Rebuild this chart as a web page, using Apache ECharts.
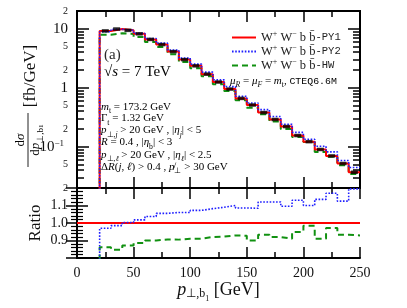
<!DOCTYPE html>
<html><head><meta charset="utf-8">
<script src="https://cdn.jsdelivr.net/npm/echarts@6/dist/echarts.min.js"></script>
<style>html,body{margin:0;padding:0;background:#fff}#c{width:407px;height:308px}</style>
</head><body><div id="c"></div>
<script>
// ---- data (10 GeV bins from 20 to 250 GeV) ----
const binEdges = [20,30,40,50,60,70,80,90,100,110,120,130,140,150,160,170,180,190,200,210,220,230,240,250];
const py1 = [9.2,9.9,9.4,8.2,6.6,5.4,4.1,3.0,2.35,1.7,1.25,0.95,0.66,0.51,0.38,0.29,0.22,0.155,0.122,0.09,0.07,0.052,0.037];
const py2 = [8.92,9.75,9.43,8.35,6.84,5.70,4.35,3.18,2.52,1.84,1.36,1.045,0.717,0.553,0.426,0.325,0.241,0.175,0.134,0.102,0.082,0.0585,0.0444];
const hw  = [7.92,8.39,8.19,7.27,5.94,4.89,3.71,2.73,2.14,1.56,1.15,0.883,0.612,0.459,0.355,0.267,0.200,0.147,0.120,0.0819,0.068,0.0485,0.0344];
const ratioPY2 = [0.97,0.985,1.003,1.018,1.037,1.055,1.06,1.06,1.072,1.082,1.09,1.10,1.086,1.084,1.12,1.12,1.096,1.13,1.10,1.135,1.17,1.125,1.195];
const ratioHW  = [0.861,0.847,0.871,0.886,0.90,0.906,0.905,0.91,0.91,0.92,0.922,0.929,0.927,0.90,0.933,0.92,0.91,0.949,0.984,0.91,0.972,0.933,0.929];
const ratioRef = 1.0;
const xRange = [0, 250];
const yTopRange = [0.02, 20];
const yRatioRange = [0.8, 1.2];
const yTopLabelValues = [0.02,0.05,0.1,0.2,0.5,1,2,5,10,20];
const yTopMajorTicks = [0.1,1,10];
const yTopMinorTicks = [0.02,0.03,0.04,0.05,0.06,0.07,0.08,0.09,0.2,0.3,0.4,0.5,0.6,0.7,0.8,0.9,2,3,4,5,6,7,8,9,20];

// ---- helpers ----
function stepData(vals, floor) {
  const d = [[binEdges[0], floor]];
  vals.forEach((v, i) => d.push([binEdges[i], v]));
  d.push([binEdges[binEdges.length - 1], vals[vals.length - 1]]);
  return d;
}
const centers = py1.map((v, i) => [(binEdges[i] + binEdges[i + 1]) / 2, v]);

const SERIF = 'Liberation Serif';
const MONO = 'Liberation Mono';
const black = '#000';
const RED = '#ff0000', BLUE = '#1f1fff', GREEN = '#119111';

function xAx(grid, pos, labels) {
  return {
    type: 'value', gridIndex: grid, position: pos, min: xRange[0], max: xRange[1], interval: 50,
    axisLine: { show: true, onZero: false, lineStyle: { color: black, width: 2 } },
    axisTick: { show: true, inside: true, length: 11, lineStyle: { color: black, width: 1.5 } },
    minorTick: { show: true, splitNumber: 2, length: 6, lineStyle: { color: black, width: 1.5 } },
    splitLine: { show: false },
    axisLabel: { show: labels, margin: 8, fontFamily: SERIF, fontSize: 14, color: '#111' }
  };
}
function yLog(pos, ticks, len, labels) {
  const a = {
    type: 'log', logBase: 10, gridIndex: 0, position: pos, min: yTopRange[0], max: yTopRange[1],
    axisLine: { show: true, lineStyle: { color: black, width: 2 } },
    axisTick: { show: true, inside: true, length: len, customValues: ticks, lineStyle: { color: black, width: 1.5 } },
    splitLine: { show: false },
    axisLabel: { show: false }
  };
  if (labels) {
    a.axisLabel = {
      show: true, customValues: yTopLabelValues, margin: 9, fontFamily: SERIF, color: '#111',
      formatter: function (v) {
        const lg = Math.log10(v), r = Math.round(lg);
        if (Math.abs(lg - r) < 1e-6) {
          if (r < 0) return '{big|10}{sup|\u2212' + (-r) + '}';
          return '{big|' + Math.pow(10, r) + '}';
        }
        const m = Math.round(v / Math.pow(10, Math.floor(lg)));
        return '{small|' + m + '}';
      },
      rich: {
        big: { fontFamily: SERIF, fontSize: 15, lineHeight: 16, color: '#111' },
        sup: { fontFamily: SERIF, fontSize: 9, lineHeight: 9, verticalAlign: 'top', color: '#111', padding: [0, 4, 0, 0] },
        small: { fontFamily: SERIF, fontSize: 10, color: '#111' }
      }
    };
  }
  return a;
}
function yRatio(pos, labels) {
  return {
    type: 'value', gridIndex: 1, position: pos, min: yRatioRange[0], max: yRatioRange[1], interval: 0.1,
    axisLine: { show: true, lineStyle: { color: black, width: 2 } },
    axisTick: { show: true, inside: true, length: 11, lineStyle: { color: black, width: 1.5 } },
    minorTick: { show: true, splitNumber: 5, length: 6, lineStyle: { color: black, width: 1.2 } },
    splitLine: { show: false },
    axisLabel: {
      show: labels, showMinLabel: false, showMaxLabel: false, margin: 9, fontFamily: SERIF, fontSize: 14, color: '#111',
      formatter: v => (Math.abs(v - 0.8) < 1e-6 || Math.abs(v - 1.2) < 1e-6) ? '' : v.toFixed(1)
    }
  };
}

const legendRich = {
  t: { fontFamily: SERIF, fontSize: 12.5, lineHeight: 15, color: '#222' },
  sup: { fontFamily: SERIF, fontSize: 8, lineHeight: 8, verticalAlign: 'top', color: '#222' },
  mono: { fontFamily: MONO, fontSize: 10.5, lineHeight: 15, color: '#222' }
};
const mathRich = (fs, color) => ({
  t: { fontFamily: SERIF, fontSize: fs, lineHeight: fs + 5, color: color },
  it: { fontFamily: SERIF, fontStyle: 'italic', fontSize: fs, lineHeight: fs + 5, color: color },
  sub: { fontFamily: SERIF, fontSize: fs * 0.7, lineHeight: fs * 0.7, verticalAlign: 'bottom', color: color },
  subit: { fontFamily: SERIF, fontStyle: 'italic', fontSize: fs * 0.7, lineHeight: fs * 0.7, verticalAlign: 'bottom', color: color },
  sub2: { fontFamily: SERIF, fontSize: fs * 0.55, lineHeight: fs * 0.55, verticalAlign: 'bottom', color: color },
  mono: { fontFamily: MONO, fontSize: fs * 0.9, lineHeight: fs + 5, color: color }
});
const txtCol = '#2a2a2a';
const infoLines = [
  '{it|m}{sub|t}{t| = 173.2 GeV}',
  '{t|\u0393}{sub|t}{t| = 1.32 GeV}',
  '{it|p}{sub|\u22a5,}{subit|j}{t| > 20 GeV , |}{it|\u03b7}{subit|j}{t|| < 5}',
  '{it|R}{t| = 0.4 , |}{it|\u03b7}{sub|b}{t|| < 3}',
  '{it|p}{sub|\u22a5,}{subit|\u2113}{t| > 20 GeV , |}{it|\u03b7}{subit|\u2113}{t|| < 2.5}',
  '{t|\u0394}{it|R}{t|(}{it|j}{t|, }{it|\u2113}{t|) > 0.4 , }{it|p\u0338}{sub|\u22a5}{t| > 30 GeV}'
];
const infoY = [107, 118.5, 130.5, 142.5, 155, 167];
const R90 = Math.PI / 2;

const graphics = [
  { type: 'text', x: 104, y: 55, style: { text: '(a)', font: '15px ' + SERIF, fill: txtCol, align: 'left', verticalAlign: 'middle' } },
  { type: 'text', x: 104, y: 72, style: { text: '{t|\u221a}{it|s}{t| = 7 TeV}', rich: mathRich(15, txtCol), align: 'left', verticalAlign: 'middle' } },
  { type: 'text', x: 230, y: 81, style: { text: '{it|\u03bc}{subit|R}{t| = }{it|\u03bc}{subit|F}{t| = }{it|m}{sub|t}{t|, }{mono|CTEQ6.6M}', rich: mathRich(11, '#555'), align: 'left', verticalAlign: 'middle' } },
  { type: 'text', x: 36, y: 223, rotation: R90, style: { text: 'Ratio', font: '17px ' + SERIF, fill: '#111', align: 'center', verticalAlign: 'middle' } },
  // y-axis title: fraction d sigma / d p_{perp,b1}  [fb/GeV]
  { type: 'text', x: 21, y: 140, rotation: R90, style: { text: '{t|d}{it|\u03c3}', rich: mathRich(13, '#111'), align: 'center', verticalAlign: 'middle' } },
  { type: 'line', shape: { x1: 28, y1: 113, x2: 28, y2: 167 }, style: { stroke: '#222', lineWidth: 1 } },
  { type: 'text', x: 36, y: 140, rotation: R90, style: { text: '{t|d}{it|p}{sub|\u22a5,b}{sub2|1}', rich: mathRich(13, '#111'), align: 'center', verticalAlign: 'middle' } },
  { type: 'text', x: 31, y: 76, rotation: R90, style: { text: '[fb/GeV]', font: '17px ' + SERIF, fill: '#111', align: 'center', verticalAlign: 'middle' } }
];
infoLines.forEach((s, i) => graphics.push({ type: 'text', x: 101, y: infoY[i], style: { text: s, rich: mathRich(11, txtCol), align: 'left', verticalAlign: 'middle' } }));

const chart = echarts.init(document.getElementById('c'), null, { renderer: 'canvas' });
chart.setOption({
  animation: false,
  backgroundColor: '#fff',
  grid: [
    { left: 77, top: 11, width: 283, height: 177 },
    { left: 77, top: 188, width: 283, height: 70 }
  ],
  xAxis: [
    xAx(0, 'bottom', false), xAx(0, 'top', false),
    Object.assign(xAx(1, 'bottom', true), {
      name: '{it|p}{sub|\u22a5,b}{sub2|1}{t| [GeV]}', nameLocation: 'middle', nameGap: 17,
      nameTextStyle: { rich: {
        it: { fontFamily: SERIF, fontStyle: 'italic', fontSize: 18, lineHeight: 26, color: '#111' },
        t: { fontFamily: SERIF, fontSize: 18, lineHeight: 26, color: '#111' },
        sub: { fontFamily: SERIF, fontSize: 12, lineHeight: 12, verticalAlign: 'bottom', padding: [0, 0, 3, 0], color: '#111' },
        sub2: { fontFamily: SERIF, fontSize: 8, lineHeight: 8, verticalAlign: 'bottom', color: '#111' }
      } }
    }),
    xAx(1, 'top', false)
  ],
  yAxis: [
    yLog('left', yTopMajorTicks, 12, true),
    yLog('left', yTopMinorTicks, 7, false),
    yLog('right', yTopMajorTicks, 12, false),
    yLog('right', yTopMinorTicks, 7, false),
    yRatio('left', true),
    yRatio('right', false)
  ],
  legend: {
    left: 226, top: 25, orient: 'vertical', itemWidth: 24, itemHeight: 12, itemGap: 0,
    data: ['PY1', 'PY2', 'HW'],
    formatter: n => '{t|W}{sup|+}{t| W}{sup|\u2212}{t| b b\u0304}{mono|-' + n + '}',
    textStyle: { rich: legendRich, padding: [0, 0, 0, 0] },
    itemStyle: { opacity: 0 }
  },
  graphic: graphics,
  series: [
    { name: 'PY1', type: 'line', xAxisIndex: 0, yAxisIndex: 0, step: 'end', symbol: 'none', data: stepData(py1, 1e-4),
      lineStyle: { color: RED, width: 2 }, itemStyle: { color: RED }, z: 3 },
    { name: 'PY2', type: 'line', xAxisIndex: 0, yAxisIndex: 0, step: 'end', symbol: 'none', data: stepData(py2, 1e-4),
      lineStyle: { color: BLUE, width: 1.6, type: [1.6, 1.6] }, itemStyle: { color: BLUE }, z: 4 },
    { name: 'HW', type: 'line', xAxisIndex: 0, yAxisIndex: 0, step: 'end', symbol: 'none', data: stepData(hw, 1e-4),
      lineStyle: { color: GREEN, width: 2, type: [6, 4] }, itemStyle: { color: GREEN }, z: 2 },
    { name: 'marks', type: 'scatter', xAxisIndex: 0, yAxisIndex: 0, symbol: 'rect', symbolSize: [7, 3.5],
      itemStyle: { color: '#000' }, data: centers, z: 5, silent: true },
    { name: 'PY1', type: 'line', xAxisIndex: 2, yAxisIndex: 4, symbol: 'none', data: [[xRange[0], ratioRef], [xRange[1], ratioRef]],
      lineStyle: { color: RED, width: 2 }, z: 3 },
    { name: 'PY2', type: 'line', xAxisIndex: 2, yAxisIndex: 4, step: 'end', symbol: 'none', data: stepData(ratioPY2, 0.5),
      lineStyle: { color: BLUE, width: 1.6, type: [1.6, 1.6] }, z: 4 },
    { name: 'HW', type: 'line', xAxisIndex: 2, yAxisIndex: 4, step: 'end', symbol: 'none', data: stepData(ratioHW, 0.5),
      lineStyle: { color: GREEN, width: 2, type: [6, 4] }, z: 2 }
  ]
});
</script></body></html>
